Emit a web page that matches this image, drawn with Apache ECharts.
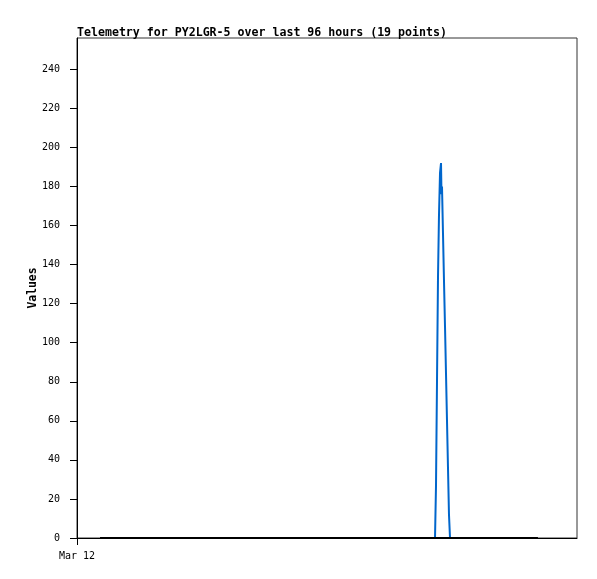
<!DOCTYPE html>
<html>
<head>
<meta charset="utf-8">
<script src="https://cdn.jsdelivr.net/npm/echarts@6/dist/echarts.min.js"></script>
<style>html,body{margin:0;padding:0;background:#fff}#c{width:597px;height:579px}</style>
</head>
<body>
<div id="c"></div>
<script>
// Hours since Mar 12 00:00 and values
var blueHours = [68.74, 68.93, 69.12, 69.31, 69.50, 69.70, 69.89, 69.98, 70.08, 70.27, 70.46, 70.66, 70.85, 71.04, 71.23, 71.42, 71.62];
var blueValues = [0, 27, 80, 133, 165, 187, 192, 176, 180, 156, 132, 108, 84, 60, 36, 12, 0];
var blackHours = [4.42, 88.5];
var blackValues = [0, 0];
var yTicks = [0, 20, 40, 60, 80, 100, 120, 140, 160, 180, 200, 220, 240];
var xTicks = [0];
var xTickLabels = ['Mar 12'];
var titleText = 'Telemetry for PY2LGR-5 over last 96 hours (19 points)';

function pairs(xs, ys) { return xs.map(function (x, i) { return [x, ys[i]]; }); }

var chart = echarts.init(document.getElementById('c'), null, { renderer: 'canvas' });
chart.setOption({
  animation: false,
  backgroundColor: '#fff',
  title: {
    text: titleText, left: 72, top: 22,
    textStyle: { fontFamily: 'DejaVu Sans Mono', fontWeight: 'bold', fontSize: 11.6, color: '#000' }
  },
  grid: { left: 77, top: 38, right: 20, bottom: 41, show: true, borderColor: '#333', borderWidth: 1, containLabel: false },
  xAxis: {
    type: 'value', min: 0, max: 96,
    axisLine: { show: true, lineStyle: { color: '#000', width: 1 } },
    axisTick: { show: true, length: 7, customValues: xTicks, lineStyle: { color: '#000' } },
    axisLabel: { customValues: xTicks, margin: 13, fontFamily: 'DejaVu Sans Mono', fontSize: 10, color: '#000',
      formatter: function (v) { var i = xTicks.indexOf(v); return i >= 0 ? xTickLabels[i] : ''; } },
    splitLine: { show: false }
  },
  yAxis: {
    type: 'value', min: 0, max: 256,
    name: 'Values', nameLocation: 'middle', nameGap: 38, nameRotate: 90, nameMoveOverlap: false,
    nameTextStyle: { fontFamily: 'DejaVu Sans Mono', fontWeight: 'bold', fontSize: 11.4, color: '#000' },
    axisLine: { show: true, lineStyle: { color: '#000', width: 1 } },
    axisTick: { show: true, length: 7, customValues: yTicks, lineStyle: { color: '#000' } },
    axisLabel: { customValues: yTicks, margin: 17, fontFamily: 'DejaVu Sans Mono', fontSize: 10, color: '#000' },
    splitLine: { show: false }
  },
  series: [
    { type: 'line', step: 'end', data: pairs(blueHours, blueValues), showSymbol: false, symbol: 'none',
      lineStyle: { color: '#0066cc', width: 2 }, z: 2 },
    { type: 'line', data: pairs(blackHours, blackValues), showSymbol: false, symbol: 'none',
      lineStyle: { color: '#000', width: 2 }, z: 3 }
  ]
});
</script>
</body>
</html>
